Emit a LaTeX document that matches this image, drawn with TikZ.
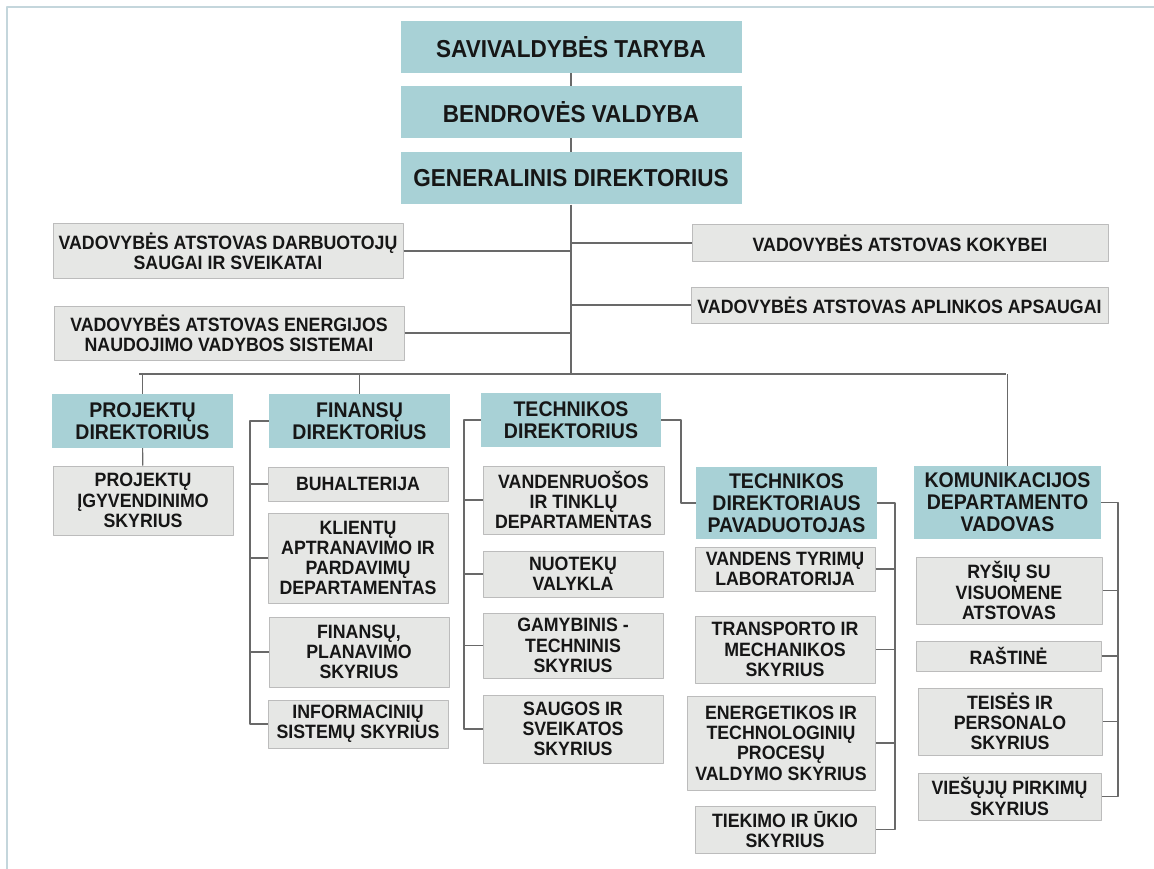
\documentclass[tikz,border=0pt]{standalone}
\usepackage{fontspec}
\setmainfont[FakeStretch=0.92]{Liberation Sans}
\usepackage{tikz}
\usetikzlibrary{positioning}
\definecolor{tealfill}{RGB}{168,209,214}
\definecolor{unitfill}{RGB}{230,231,229}
\definecolor{unitline}{RGB}{188,188,188}
\definecolor{linkcol}{RGB}{105,105,105}
\definecolor{framecol}{RGB}{196,214,220}
\definecolor{txtcol}{RGB}{22,22,22}

\begin{document}
\begin{tikzpicture}[line cap=round,line join=round,x=1pt,y=-1pt,
  topbox/.style={rectangle,fill=tealfill,inner sep=0pt,minimum width=341pt,minimum height=52pt,text=txtcol,font=\fontsize{24.5}{26}\selectfont\bfseries},
  headbox/.style={rectangle,fill=tealfill,inner sep=0pt,align=center,text=txtcol,font=\fontsize{21.2}{22}\selectfont\bfseries},
  unitbox/.style={rectangle,fill=unitfill,draw=unitline,line width=1pt,inner sep=0pt,align=center,text=txtcol,font=\fontsize{19.3}{20.3}\selectfont\bfseries},
  link/.style={draw=linkcol,line width=1.1pt,line cap=butt}]
\useasboundingbox (0,0) rectangle (1154,869);
\draw[framecol,line width=1.5pt] (7,869) -- (7,7) -- (1154,7);
\node[topbox] (st) at (571,47) {SAVIVALDYBĖS TARYBA};
\node[topbox] (bv) at (571,112) {BENDROVĖS VALDYBA};
\node[topbox] (gd) at (571,178.5) {GENERALINIS DIREKTORIUS};
\node[unitbox,minimum width=350pt,minimum height=54pt] (a1) at (228,251) {VADOVYBĖS ATSTOVAS DARBUOTOJŲ\\SAUGAI IR SVEIKATAI};
\node[unitbox,minimum width=350pt,minimum height=54pt] (a2) at (229,333) {VADOVYBĖS ATSTOVAS ENERGIJOS\\NAUDOJIMO VADYBOS SISTEMAI};
\node[unitbox,minimum width=416pt,minimum height=36pt] (b1) at (900,243) {VADOVYBĖS ATSTOVAS KOKYBEI};
\node[unitbox,minimum width=417pt,minimum height=36pt] (b2) at (899.5,305) {VADOVYBĖS ATSTOVAS APLINKOS APSAUGAI};
\node[headbox,minimum width=181pt,minimum height=54pt] (pd) at (142.5,421) {PROJEKTŲ\\DIREKTORIUS};
\node[unitbox,minimum width=180pt,minimum height=69pt] (pi) at (143,500.5) {PROJEKTŲ\\ĮGYVENDINIMO\\SKYRIUS};
\node[headbox,minimum width=181pt,minimum height=54pt] (fd) at (359.5,421) {FINANSŲ\\DIREKTORIUS};
\node[unitbox,minimum width=180pt,minimum height=34pt] (f1) at (358,484) {BUHALTERIJA};
\node[unitbox,minimum width=180pt,minimum height=90pt] (f2) at (358,558) {KLIENTŲ\\APTRANAVIMO IR\\PARDAVIMŲ\\DEPARTAMENTAS};
\node[unitbox,minimum width=180pt,minimum height=70pt] (f3) at (359,652) {FINANSŲ,\\PLANAVIMO\\SKYRIUS};
\node[unitbox,minimum width=180pt,minimum height=48pt] (f4) at (358,724) {INFORMACINIŲ\\SISTEMŲ SKYRIUS};
\node[headbox,minimum width=180pt,minimum height=54pt] (td) at (571,420) {TECHNIKOS\\DIREKTORIUS};
\node[unitbox,minimum width=181pt,minimum height=68pt] (t1) at (573.5,500) {VANDENRUOŠOS\\IR TINKLŲ\\DEPARTAMENTAS};
\node[unitbox,minimum width=180pt,minimum height=46pt] (t2) at (573,574) {NUOTEKŲ\\VALYKLA};
\node[unitbox,minimum width=180pt,minimum height=65pt] (t3) at (573,645.5) {GAMYBINIS -\\TECHNINIS\\SKYRIUS};
\node[unitbox,minimum width=180pt,minimum height=68pt] (t4) at (573,729) {SAUGOS IR\\SVEIKATOS\\SKYRIUS};
\node[headbox,minimum width=181pt,minimum height=72pt] (tp) at (786.5,503) {TECHNIKOS\\DIREKTORIAUS\\PAVADUOTOJAS};
\node[unitbox,minimum width=180pt,minimum height=44pt] (p1) at (785,569) {VANDENS TYRIMŲ\\LABORATORIJA};
\node[unitbox,minimum width=180pt,minimum height=67pt] (p2) at (785,649.5) {TRANSPORTO IR\\MECHANIKOS\\SKYRIUS};
\node[unitbox,minimum width=188pt,minimum height=94pt] (p3) at (781,743) {ENERGETIKOS IR\\TECHNOLOGINIŲ\\PROCESŲ\\VALDYMO SKYRIUS};
\node[unitbox,minimum width=180pt,minimum height=47pt] (p4) at (785,829.5) {TIEKIMO IR ŪKIO\\SKYRIUS};
\node[headbox,minimum width=187pt,minimum height=73pt] (kd) at (1007.5,502.5) {KOMUNIKACIJOS\\DEPARTAMENTO\\VADOVAS};
\node[unitbox,minimum width=186pt,minimum height=67pt] (k1) at (1009,590.5) {RYŠIŲ SU\\VISUOMENE\\ATSTOVAS};
\node[unitbox,minimum width=185pt,minimum height=30pt] (k2) at (1008.5,656) {RAŠTINĖ};
\node[unitbox,minimum width=184pt,minimum height=67pt] (k3) at (1010,721.5) {TEISĖS IR\\PERSONALO\\SKYRIUS};
\node[unitbox,minimum width=183pt,minimum height=47pt] (k4) at (1009.5,796.5) {VIEŠŲJŲ PIRKIMŲ\\SKYRIUS};
\coordinate (busL) at (139,374);
\coordinate (busR) at (1006,374);
\coordinate (finx) at (250,0);
\coordinate (tlx) at (464,0);
\coordinate (trx) at (681,0);
\coordinate (px) at (895,0);
\coordinate (kx) at (1118,0);
\draw[link] (st) -- (bv);
\draw[link] (bv) -- (gd);
\draw[link] (gd.south) -- (gd.south |- busL);
\draw[link] (busL) -- (busR);
\draw[link] (a1.east) -- (a1.east -| gd.south);
\draw[link] (a2.east) -- (a2.east -| gd.south);
\draw[link] (b1.west) -- (b1.west -| gd.south);
\draw[link] (b2.west) -- (b2.west -| gd.south);
\draw[link] (pd.north) -- (pd.north |- busL);
\draw[link] (fd.north) -- (fd.north |- busL);
\draw[link] (kd.north) -- (kd.north |- busR);
\draw[link] (pd) -- (pi);
\draw[link] (fd.west) -- (fd.west -| finx) |- (f4.west);
\foreach \n in {f1,f2,f3} \draw[link] (\n.west) -- (\n.west -| finx);
\draw[link] (td.west) -- (td.west -| tlx) |- (t4.west);
\foreach \n in {t1,t2,t3} \draw[link] (\n.west) -- (\n.west -| tlx);
\draw[link] (td.east) -- (td.east -| trx) |- (tp.west);
\draw[link] (tp.east) -- (tp.east -| px) |- (p4.east);
\foreach \n in {p1,p2,p3} \draw[link] (\n.east) -- (\n.east -| px);
\draw[link] (kd.east) -- (kd.east -| kx) |- (k4.east);
\foreach \n in {k1,k2,k3} \draw[link] (\n.east) -- (\n.east -| kx);
\end{tikzpicture}
\end{document}
